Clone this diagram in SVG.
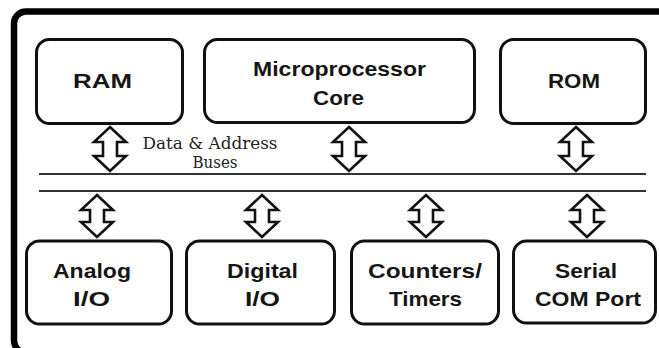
<svg xmlns="http://www.w3.org/2000/svg" width="659" height="348" viewBox="0 0 659 348">
<style>
.frame{fill:none;stroke:#000;stroke-width:6.5}
.box{fill:#fff;stroke:#111;stroke-width:3}
.lbl{font-family:"Liberation Sans",Arial,sans-serif;font-weight:bold;font-size:21px;fill:#161616;text-anchor:middle}
.bus{stroke:#333;stroke-width:2.2;fill:none}
.arr{fill:#fff;stroke:#111;stroke-width:2.6;stroke-linejoin:miter}
.note{font-family:"DejaVu Serif","Liberation Serif",serif;font-size:16.5px;fill:#222;text-anchor:middle}
</style>
<rect width="659" height="348" fill="#fff"/>
<rect class="frame" x="14" y="11.5" width="700" height="341" rx="12"/>

<g id="ram"><rect class="box" x="36.5" y="39.5" width="146" height="84" rx="13"/><text class="lbl" x="102.5" y="88" textLength="59" lengthAdjust="spacingAndGlyphs">RAM</text></g>
<g id="cpu"><rect class="box" x="204.5" y="39.5" width="270" height="83" rx="13"/><text class="lbl" x="339.5" y="76" textLength="173" lengthAdjust="spacingAndGlyphs">Microprocessor</text><text class="lbl" x="338.5" y="105" textLength="51" lengthAdjust="spacingAndGlyphs">Core</text></g>
<g id="rom"><rect class="box" x="500.5" y="39.5" width="145" height="84" rx="13"/><text class="lbl" x="574" y="88" textLength="52" lengthAdjust="spacingAndGlyphs">ROM</text></g>

<g id="analog"><rect class="box" x="26.5" y="241" width="145" height="83" rx="13"/><text class="lbl" x="92" y="278" textLength="78" lengthAdjust="spacingAndGlyphs">Analog</text><text class="lbl" x="91.5" y="306" textLength="37" lengthAdjust="spacingAndGlyphs">I/O</text></g>
<g id="digital"><rect class="box" x="186.5" y="241" width="148" height="83" rx="13"/><text class="lbl" x="262.5" y="278" textLength="71" lengthAdjust="spacingAndGlyphs">Digital</text><text class="lbl" x="262.5" y="306" textLength="35" lengthAdjust="spacingAndGlyphs">I/O</text></g>
<g id="counters"><rect class="box" x="351.5" y="241" width="147" height="83" rx="13"/><text class="lbl" x="425" y="278" textLength="114" lengthAdjust="spacingAndGlyphs">Counters/</text><text class="lbl" x="425.5" y="306" textLength="73" lengthAdjust="spacingAndGlyphs">Timers</text></g>
<g id="serial"><rect class="box" x="513.5" y="241" width="142" height="82" rx="13"/><text class="lbl" x="586" y="278" textLength="62" lengthAdjust="spacingAndGlyphs">Serial</text><text class="lbl" x="588" y="306" textLength="106" lengthAdjust="spacingAndGlyphs">COM Port</text></g>

<g id="connectors">
<line class="bus" x1="39" y1="174" x2="646" y2="174"/>
<line class="bus" x1="39" y1="191" x2="646" y2="191"/>
<polygon class="arr" points="110,127 126,142 117,142 117,156 126,156 110,171 94,156 103,156 103,142 94,142"/>
<polygon class="arr" points="349,127 365,142 356,142 356,156 365,156 349,171 333,156 342,156 342,142 333,142"/>
<polygon class="arr" points="576,127 592,142 583,142 583,156 592,156 576,171 560,156 569,156 569,142 560,142"/>
<polygon class="arr" points="97,195 113,210 104,210 104,222 113,222 97,237 81,222 90,222 90,210 81,210"/>
<polygon class="arr" points="262,195 278,210 269,210 269,222 278,222 262,237 246,222 255,222 255,210 246,210"/>
<polygon class="arr" points="426,195 442,210 433,210 433,222 442,222 426,237 410,222 419,222 419,210 410,210"/>
<polygon class="arr" points="587,195 603,210 594,210 594,222 603,222 587,237 571,222 580,222 580,210 571,210"/>
</g>
<g id="bus-label">
<text class="note" x="210" y="149" textLength="135" lengthAdjust="spacingAndGlyphs">Data &amp; Address</text>
<text class="note" x="215" y="168" textLength="45" lengthAdjust="spacingAndGlyphs">Buses</text>
</g>
</svg>
